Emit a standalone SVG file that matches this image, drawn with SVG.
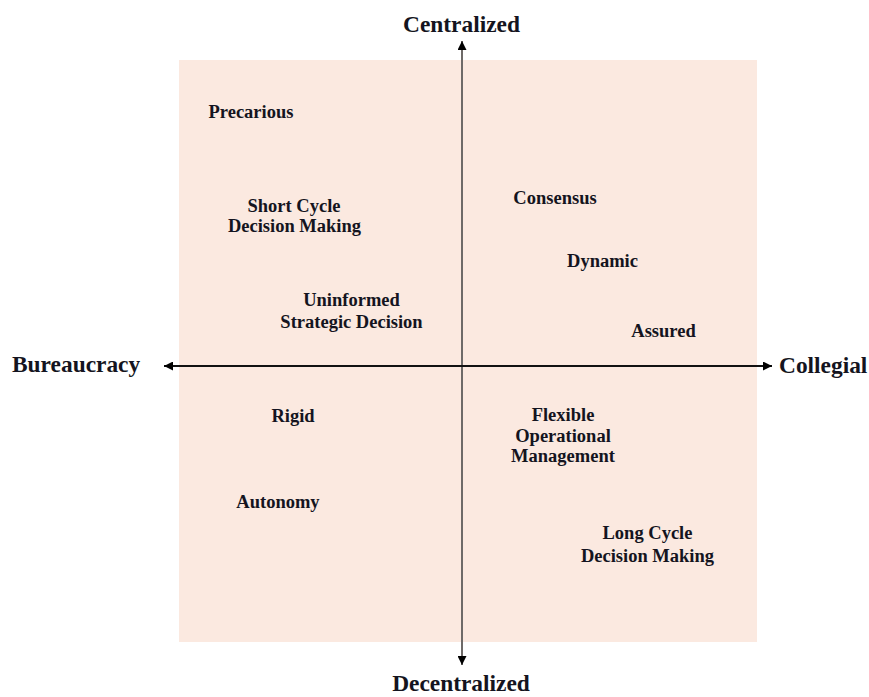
<svg xmlns="http://www.w3.org/2000/svg" width="869" height="697" viewBox="0 0 869 697">
<style>
  .lbl { font-family: "Liberation Serif", "Times New Roman", serif; font-weight: bold; font-size: 18.5px; fill: #141420; text-anchor: middle; }
  .axl { font-family: "Liberation Serif", "Times New Roman", serif; font-weight: bold; font-size: 23.4px; fill: #141420; }
</style>
<defs>
  <marker id="ahK" viewBox="0 0 10 10" refX="10" refY="5" markerWidth="9" markerHeight="9" markerUnits="userSpaceOnUse" orient="auto-start-reverse">
    <path d="M0,0 L10,5 L0,10 z" fill="#000"/>
  </marker>
</defs>
<rect width="869" height="697" fill="#ffffff"/>
<g id="quadrant-background">
  <rect x="179" y="60" width="578" height="582" fill="#FBE9E0"/>
</g>
<g id="connectors">
  <line x1="462" y1="41" x2="462" y2="665" stroke="#6e6a68" stroke-width="2" marker-start="url(#ahK)" marker-end="url(#ahK)"/>
  <line x1="164" y1="366" x2="772" y2="366" stroke="#111" stroke-width="2" marker-start="url(#ahK)" marker-end="url(#ahK)"/>
</g>
<g id="axis-centralized"><text class="axl" x="461.5" y="32" text-anchor="middle">Centralized</text></g>
<g id="axis-decentralized"><text class="axl" x="461" y="691" text-anchor="middle">Decentralized</text></g>
<g id="axis-bureaucracy"><text class="axl" x="12" y="372">Bureaucracy</text></g>
<g id="axis-collegial"><text class="axl" x="779" y="373">Collegial</text></g>
<g id="node-precarious"><text class="lbl" x="251" y="118">Precarious</text></g>
<g id="node-short-cycle"><text class="lbl" x="294" y="211.5">Short Cycle</text><text class="lbl" x="294.5" y="232">Decision Making</text></g>
<g id="node-uninformed"><text class="lbl" x="351.5" y="306">Uninformed</text><text class="lbl" x="351.5" y="328">Strategic Decision</text></g>
<g id="node-consensus"><text class="lbl" x="555" y="204">Consensus</text></g>
<g id="node-dynamic"><text class="lbl" x="602.5" y="267">Dynamic</text></g>
<g id="node-assured"><text class="lbl" x="663.5" y="337">Assured</text></g>
<g id="node-rigid"><text class="lbl" x="293" y="421.5">Rigid</text></g>
<g id="node-autonomy"><text class="lbl" x="278" y="508">Autonomy</text></g>
<g id="node-flexible"><text class="lbl" x="563" y="420.5">Flexible</text><text class="lbl" x="563" y="442">Operational</text><text class="lbl" x="563" y="462">Management</text></g>
<g id="node-long-cycle"><text class="lbl" x="647.5" y="539">Long Cycle</text><text class="lbl" x="647.5" y="561.5">Decision Making</text></g>
</svg>
